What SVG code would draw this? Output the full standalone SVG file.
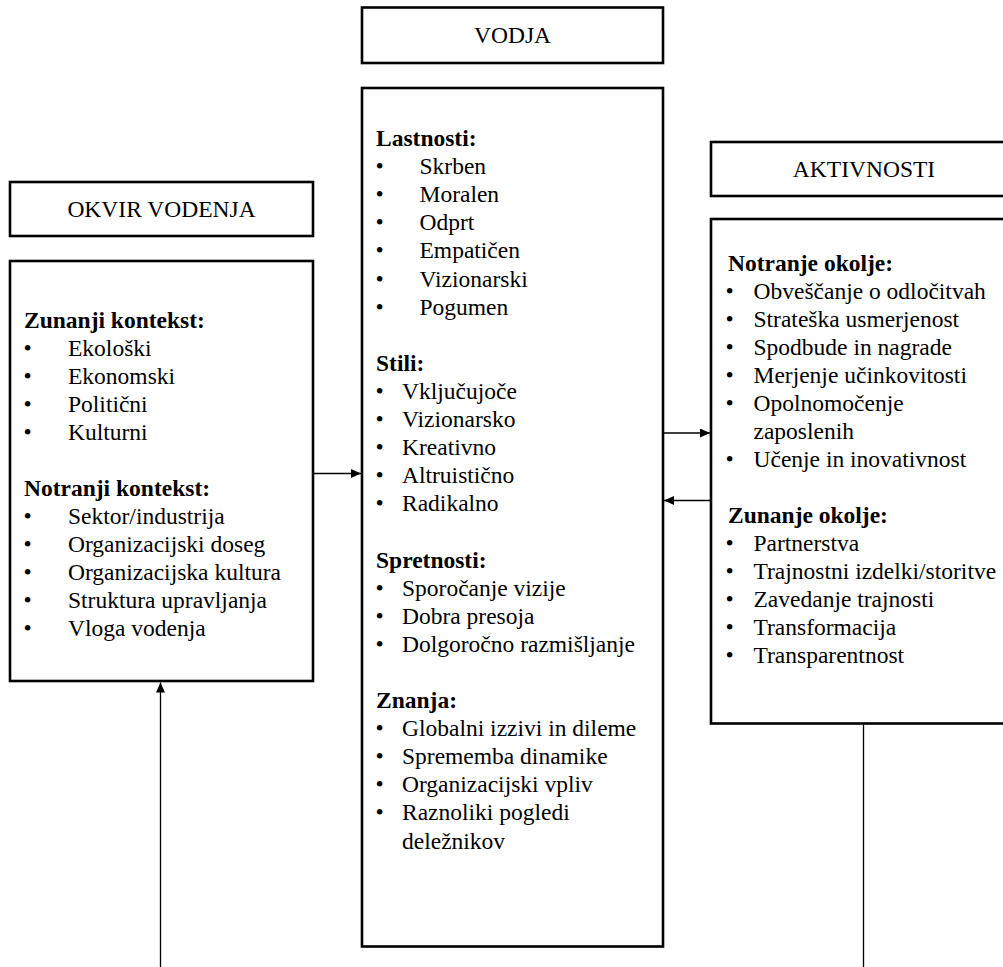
<svg xmlns="http://www.w3.org/2000/svg" width="1003" height="967" viewBox="0 0 1003 967">
  <style>
    .box { fill: #ffffff; stroke: #000000; stroke-width: 2.6; }
    .t { font-family: "Liberation Serif", "Times New Roman", serif; font-size: 23.5px; fill: #000000; }
    .title { text-anchor: middle; }
    .h { font-weight: bold; }
    .link { fill: none; stroke: #000000; stroke-width: 1.3; }
  </style>
  <defs>
    <marker id="arrow" markerUnits="userSpaceOnUse" markerWidth="10" markerHeight="9" refX="10" refY="4.5" orient="auto">
      <path d="M0,0 L10,4.5 L0,9 Z" fill="#000000"/>
    </marker>
  </defs>

  <rect width="1003" height="967" fill="#ffffff"/>

  <!-- Titles -->
  <g id="title-vodja">
    <rect class="box" x="362" y="7.5" width="301" height="55.5"/>
    <text class="t title" x="512.5" y="43">VODJA</text>
  </g>
  <g id="title-okvir">
    <rect class="box" x="10" y="182" width="303" height="54"/>
    <text class="t title" x="161.5" y="217">OKVIR VODENJA</text>
  </g>
  <g id="title-aktivnosti">
    <rect class="box" x="711" y="142" width="306" height="54"/>
    <text class="t title" x="864" y="177">AKTIVNOSTI</text>
  </g>

  <!-- Leadership framework -->
  <g id="okvir">
    <rect class="box" x="10" y="261" width="303" height="420"/>
    <text class="t h" x="24" y="328">Zunanji kontekst:</text>
    <g class="t">
      <text x="23.5" y="356">•</text><text x="68" y="356">Ekološki</text>
      <text x="23.5" y="384">•</text><text x="68" y="384">Ekonomski</text>
      <text x="23.5" y="412">•</text><text x="68" y="412">Politični</text>
      <text x="23.5" y="440">•</text><text x="68" y="440">Kulturni</text>
    </g>
    <text class="t h" x="24" y="496">Notranji kontekst:</text>
    <g class="t">
      <text x="23.5" y="524">•</text><text x="68" y="524">Sektor/industrija</text>
      <text x="23.5" y="552">•</text><text x="68" y="552">Organizacijski doseg</text>
      <text x="23.5" y="580">•</text><text x="68" y="580">Organizacijska kultura</text>
      <text x="23.5" y="608">•</text><text x="68" y="608">Struktura upravljanja</text>
      <text x="23.5" y="636">•</text><text x="68" y="636">Vloga vodenja</text>
    </g>
  </g>

  <!-- Leader -->
  <g id="vodja">
    <rect class="box" x="362" y="88" width="301" height="858.5"/>
    <text class="t h" x="376" y="146">Lastnosti:</text>
    <g class="t">
      <text x="375.5" y="174.1">•</text><text x="419.5" y="174.1">Skrben</text>
      <text x="375.5" y="202.2">•</text><text x="419.5" y="202.2">Moralen</text>
      <text x="375.5" y="230.3">•</text><text x="419.5" y="230.3">Odprt</text>
      <text x="375.5" y="258.4">•</text><text x="419.5" y="258.4">Empatičen</text>
      <text x="375.5" y="286.5">•</text><text x="419.5" y="286.5">Vizionarski</text>
      <text x="375.5" y="314.6">•</text><text x="419.5" y="314.6">Pogumen</text>
    </g>
    <text class="t h" x="376" y="370.8">Stili:</text>
    <g class="t">
      <text x="375.5" y="398.9">•</text><text x="402" y="398.9">Vključujoče</text>
      <text x="375.5" y="427">•</text><text x="402" y="427">Vizionarsko</text>
      <text x="375.5" y="455.1">•</text><text x="402" y="455.1">Kreativno</text>
      <text x="375.5" y="483.2">•</text><text x="402" y="483.2">Altruistično</text>
      <text x="375.5" y="511.3">•</text><text x="402" y="511.3">Radikalno</text>
    </g>
    <text class="t h" x="376" y="567.5">Spretnosti:</text>
    <g class="t">
      <text x="375.5" y="595.6">•</text><text x="402" y="595.6">Sporočanje vizije</text>
      <text x="375.5" y="623.7">•</text><text x="402" y="623.7">Dobra presoja</text>
      <text x="375.5" y="651.8">•</text><text x="402" y="651.8">Dolgoročno razmišljanje</text>
    </g>
    <text class="t h" x="376" y="708">Znanja:</text>
    <g class="t">
      <text x="375.5" y="736.1">•</text><text x="402" y="736.1">Globalni izzivi in dileme</text>
      <text x="375.5" y="764.2">•</text><text x="402" y="764.2">Sprememba dinamike</text>
      <text x="375.5" y="792.3">•</text><text x="402" y="792.3">Organizacijski vpliv</text>
      <text x="375.5" y="820.4">•</text><text x="402" y="820.4">Raznoliki pogledi</text>
      <text x="402" y="848.5">deležnikov</text>
    </g>
  </g>

  <!-- Activities -->
  <g id="aktivnosti">
    <rect class="box" x="711" y="219" width="306" height="504.5"/>
    <text class="t h" x="728" y="271">Notranje okolje:</text>
    <g class="t">
      <text x="725.5" y="299">•</text><text x="753.5" y="299">Obveščanje o odločitvah</text>
      <text x="725.5" y="327">•</text><text x="753.5" y="327">Strateška usmerjenost</text>
      <text x="725.5" y="355">•</text><text x="753.5" y="355">Spodbude in nagrade</text>
      <text x="725.5" y="383">•</text><text x="753.5" y="383">Merjenje učinkovitosti</text>
      <text x="725.5" y="411">•</text><text x="753.5" y="411">Opolnomočenje</text>
      <text x="753.5" y="439">zaposlenih</text>
      <text x="725.5" y="467">•</text><text x="753.5" y="467">Učenje in inovativnost</text>
    </g>
    <text class="t h" x="728" y="523">Zunanje okolje:</text>
    <g class="t">
      <text x="725.5" y="551">•</text><text x="753.5" y="551">Partnerstva</text>
      <text x="725.5" y="579">•</text><text x="753.5" y="579">Trajnostni izdelki/storitve</text>
      <text x="725.5" y="607">•</text><text x="753.5" y="607">Zavedanje trajnosti</text>
      <text x="725.5" y="635">•</text><text x="753.5" y="635">Transformacija</text>
      <text x="725.5" y="663">•</text><text x="753.5" y="663">Transparentnost</text>
    </g>
  </g>

  <!-- Connectors -->
  <g id="connectors">
    <path class="link" d="M314,473.5 H361" marker-end="url(#arrow)"/>
    <path class="link" d="M664,433 H710" marker-end="url(#arrow)"/>
    <path class="link" d="M710,500.5 H664" marker-end="url(#arrow)"/>
    <path class="link" d="M160.5,967 V682.5" marker-end="url(#arrow)"/>
    <path class="link" d="M863.5,724.5 V967"/>
  </g>
</svg>
